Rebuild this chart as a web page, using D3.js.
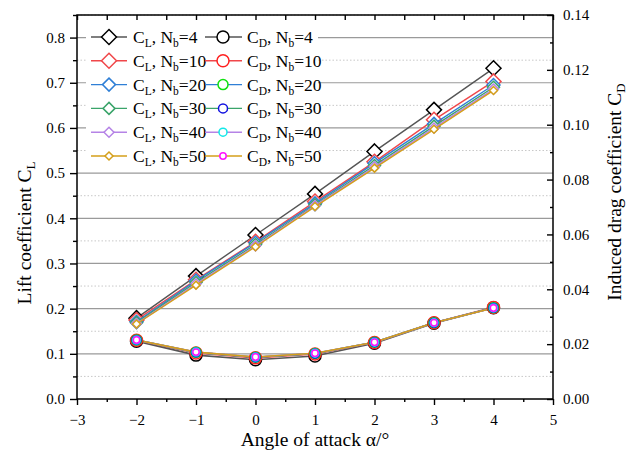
<!DOCTYPE html>
<html>
<head>
<meta charset="utf-8">
<script src="https://cdn.jsdelivr.net/npm/d3@7"></script>
<style>
  html, body { margin: 0; padding: 0; background: #fff; }
  svg { display: block; }
  svg text { font-family: "Liberation Serif", "Times New Roman", "DejaVu Serif", serif; }
</style>
</head>
<body>
<svg id="chart" width="639" height="459" font-family="Liberation Serif, Times New Roman, serif"></svg>
<script>
// Angle of attack (deg)
const alpha = [-2, -1, 0, 1, 2, 3, 4];
// Number of blade elements
const nbValues = [4, 10, 20, 30, 40, 50];

// Lift coefficient C_L per N_b
const clNb4  = [0.179, 0.272, 0.363, 0.454, 0.548, 0.640, 0.732];
const clNb10 = [0.175, 0.264, 0.348, 0.437, 0.525, 0.618, 0.703];
const clNb20 = [0.171, 0.262, 0.346, 0.433, 0.522, 0.609, 0.695];
const clNb30 = [0.169, 0.258, 0.342, 0.430, 0.517, 0.604, 0.690];
const clNb40 = [0.167, 0.255, 0.339, 0.428, 0.514, 0.600, 0.686];
const clNb50 = [0.166, 0.252, 0.337, 0.426, 0.511, 0.597, 0.683];

// Induced drag coefficient C_D per N_b
const cdNb4  = [0.0211, 0.0160, 0.0143, 0.0157, 0.0203, 0.0276, 0.0333];
const cdNb10 = [0.0214, 0.0168, 0.0150, 0.0164, 0.0206, 0.0278, 0.0334];
const cdNb20 = [0.0215, 0.0170, 0.0152, 0.0166, 0.0207, 0.0278, 0.0333];
const cdNb30 = [0.0215, 0.0170, 0.0152, 0.0166, 0.0207, 0.0278, 0.0333];
const cdNb40 = [0.0215, 0.0171, 0.0153, 0.0167, 0.0207, 0.0278, 0.0332];
const cdNb50 = [0.0215, 0.0171, 0.0153, 0.0167, 0.0207, 0.0278, 0.0332];

// Tick values
const xTicks = [-3, -2, -1, 0, 1, 2, 3, 4, 5];
const yLeftTicks = [0, 0.1, 0.2, 0.3, 0.4, 0.5, 0.6, 0.7, 0.8];
const yRightTicks = [0, 0.02, 0.04, 0.06, 0.08, 0.10, 0.12, 0.14];

const clSeries = [clNb4, clNb10, clNb20, clNb30, clNb40, clNb50];
const cdSeries = [cdNb4, cdNb10, cdNb20, cdNb30, cdNb40, cdNb50];

// Styles
const FONT = "Liberation Serif, Times New Roman, serif";
const lineColors = ["#555555", "#f0474a", "#2f7fd6", "#3aa46a", "#b583e6", "#d49f1a"];
const clMarkerColors = ["#000000", "#f0474a", "#2f7fd6", "#3aa46a", "#b583e6", "#d49f1a"];
const cdMarkerColors = ["#000000", "#ff2020", "#10e010", "#1010e0", "#10e8e8", "#ff10ff"];
const diamondHalf = [7.5, 7.5, 6.5, 6, 5, 4];
const circleR = [6, 6, 5, 4.5, 4, 3.2];

const svg = d3.select("#chart");
const L = 77, R = 553, T = 15, B = 399;

const x = d3.scaleLinear().domain([-3, 5]).range([L, R]);
const yL = d3.scaleLinear().domain([0, 0.85]).range([B, T]);
const yR = d3.scaleLinear().domain([0, 0.14]).range([B, T]);

// Grid
const grid = svg.append("g");
const minorLeft = d3.range(0.05, 0.86, 0.1);
grid.selectAll("line.minor").data(minorLeft).join("line")
  .attr("x1", L).attr("x2", R)
  .attr("y1", d => yL(d)).attr("y2", d => yL(d))
  .attr("stroke", "#c8c8c8").attr("stroke-width", 1)
  .attr("stroke-dasharray", "1.5,2");
grid.selectAll("line.major").data(yLeftTicks.slice(1)).join("line")
  .attr("x1", L).attr("x2", R)
  .attr("y1", d => yL(d)).attr("y2", d => yL(d))
  .attr("stroke", "#9a9a9a").attr("stroke-width", 1.2);

// Axes
function styleAxis(g) {
  g.attr("font-family", FONT).attr("font-size", 15);
  g.select(".domain").remove();
  g.selectAll("line").attr("stroke", "#000").attr("stroke-width", 1.4);
  g.selectAll("text").attr("fill", "#000");
}

// bottom
svg.append("g").attr("transform", `translate(0,${B})`)
  .call(d3.axisBottom(x).tickValues(xTicks).tickSize(6).tickPadding(9).tickFormat(d3.format("d")))
  .call(styleAxis);
svg.append("g").attr("transform", `translate(0,${B})`)
  .call(d3.axisBottom(x).tickValues(d3.range(-2.5, 5, 1)).tickSize(3).tickFormat(""))
  .call(styleAxis);
// top (inward)
svg.append("g").attr("transform", `translate(0,${T})`)
  .call(d3.axisBottom(x).tickValues(d3.range(-3, 5.01, 0.5)).tickSize(5).tickFormat(""))
  .call(styleAxis);
// left
svg.append("g").attr("transform", `translate(${L},0)`)
  .call(d3.axisLeft(yL).tickValues(yLeftTicks).tickSize(7).tickPadding(5).tickFormat(d3.format(".1f")))
  .call(styleAxis);
svg.append("g").attr("transform", `translate(${L},0)`)
  .call(d3.axisLeft(yL).tickValues(minorLeft).tickSize(4).tickFormat(""))
  .call(styleAxis);
// right (ticks inward, labels outside)
const rightAxis = svg.append("g").attr("transform", `translate(${R},0)`)
  .call(d3.axisLeft(yR).tickValues(yRightTicks).tickSize(6).tickFormat(d3.format(".2f")))
  .call(styleAxis);
rightAxis.selectAll("text").attr("x", 10).attr("text-anchor", "start");
svg.append("g").attr("transform", `translate(${R},0)`)
  .call(d3.axisLeft(yR).tickValues(d3.range(0.01, 0.14, 0.02)).tickSize(3).tickFormat(""))
  .call(styleAxis);

// frame
svg.append("rect").attr("x", L).attr("y", T).attr("width", R - L).attr("height", B - T)
  .attr("fill", "none").attr("stroke", "#000").attr("stroke-width", 1.5);

// Legend background (covers grid)
const legend = svg.append("g").attr("font-family", FONT);
legend.append("rect").attr("x", 86).attr("y", 22).attr("width", 232).attr("height", 144).attr("fill", "#fff");

// Data
const line = (yScale) => d3.line().x((d, i) => x(alpha[i])).y(d => yScale(d));
const diamondPath = (h) => `M0,${-h}L${h},0L0,${h}L${-h},0Z`;

const plot = svg.append("g");
// C_D series
cdSeries.forEach((s, k) => {
  plot.append("path").datum(s).attr("d", line(yR))
    .attr("fill", "none").attr("stroke", lineColors[k]).attr("stroke-width", 1.6);
});
cdSeries.forEach((s, k) => {
  plot.append("g").selectAll("circle").data(s).join("circle")
    .attr("cx", (d, i) => x(alpha[i])).attr("cy", d => yR(d))
    .attr("r", circleR[k]).attr("fill", "#fff")
    .attr("stroke", cdMarkerColors[k]).attr("stroke-width", 1.5);
});
// C_L series
clSeries.forEach((s, k) => {
  const g = plot.append("g");
  g.append("path").datum(s).attr("d", line(yL))
    .attr("fill", "none").attr("stroke", lineColors[k]).attr("stroke-width", 1.4);
  g.selectAll("path.m").data(s).join("path").attr("class", "m")
    .attr("transform", (d, i) => `translate(${x(alpha[i])},${yL(d)})`)
    .attr("d", diamondPath(diamondHalf[k])).attr("fill", "#fff")
    .attr("stroke", clMarkerColors[k]).attr("stroke-width", 1.5);
});

// Legend entries
const rowY = k => 37 + k * 23.8;
function legendText(g, xPos, yPos, main, sub, nb) {
  const t = g.append("text").attr("x", xPos).attr("y", yPos + 6)
    .attr("font-size", 17.5).attr("fill", "#000");
  t.append("tspan").text(main);
  t.append("tspan").text(sub).attr("dy", 4).attr("font-size", 11.5);
  t.append("tspan").text(", N").attr("dy", -4);
  t.append("tspan").text("b").attr("dy", 4).attr("font-size", 11.5);
  t.append("tspan").text("=" + nb).attr("dy", -4);
}
nbValues.forEach((nb, k) => {
  const y = rowY(k);
  // C_L
  legend.append("line").attr("x1", 91).attr("x2", 127).attr("y1", y).attr("y2", y)
    .attr("stroke", lineColors[k]).attr("stroke-width", 1.4);
  legend.append("path").attr("transform", `translate(109,${y})`)
    .attr("d", diamondPath(diamondHalf[k])).attr("fill", "#fff")
    .attr("stroke", clMarkerColors[k]).attr("stroke-width", 1.5);
  legendText(legend, 133, y, "C", "L", nb);
  // C_D
  legend.append("line").attr("x1", 205).attr("x2", 242).attr("y1", y).attr("y2", y)
    .attr("stroke", lineColors[k]).attr("stroke-width", 1.4);
  legend.append("circle").attr("cx", 223).attr("cy", y).attr("r", circleR[k])
    .attr("fill", "#fff").attr("stroke", cdMarkerColors[k]).attr("stroke-width", 1.5);
  legendText(legend, 247, y, "C", "D", nb);
});

// Axis titles
const titles = svg.append("g").attr("font-family", FONT).attr("font-size", 19.5);
titles.append("text").attr("x", (L + R) / 2).attr("y", 446).attr("text-anchor", "middle")
  .text("Angle of attack α/°");

const yt = titles.append("text").attr("transform", "translate(31,233) rotate(-90)")
  .attr("text-anchor", "middle");
yt.append("tspan").text("Lift coefficient C");
yt.append("tspan").text("L").attr("dy", 4).attr("font-size", 13);

const yt2 = titles.append("text").attr("transform", "translate(621,192) rotate(-90)")
  .attr("text-anchor", "middle");
yt2.append("tspan").text("Induced drag coefficient C");
yt2.append("tspan").text("D").attr("dy", 4).attr("font-size", 13);
</script>
</body>
</html>
